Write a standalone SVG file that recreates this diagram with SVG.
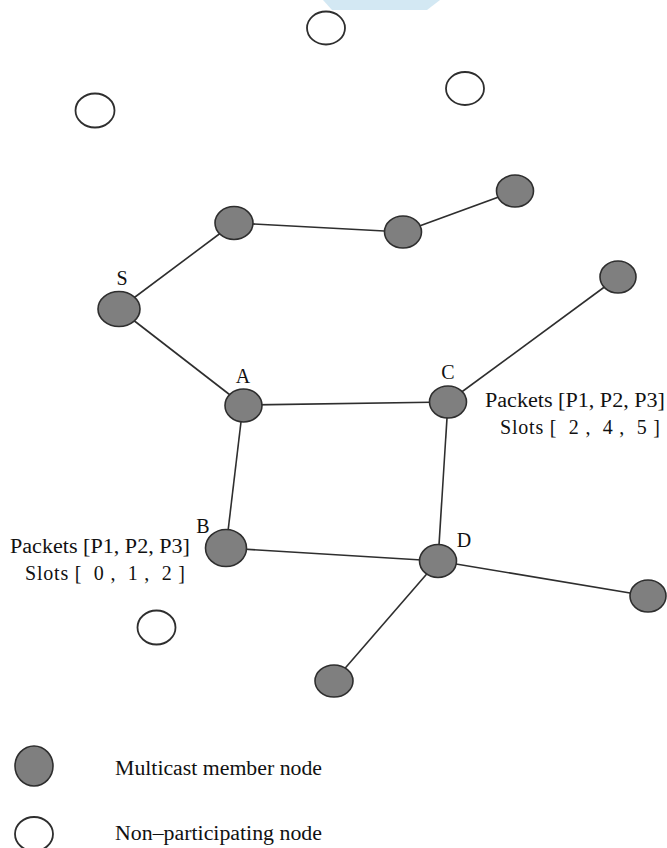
<svg xmlns="http://www.w3.org/2000/svg" width="667" height="848" viewBox="0 0 667 848">
  <style>
    .member { fill: #7f7f7f; stroke: #2e2e2e; stroke-width: 1.6; }
    .idle { fill: #ffffff; stroke: #2e2e2e; stroke-width: 1.8; }
    .edge { stroke: #2e2e2e; stroke-width: 1.6; fill: none; }
    .label { font-family: "Liberation Serif", "Times New Roman", serif; font-size: 20px; fill: #111111; }
    .note { font-family: "Liberation Serif", "Times New Roman", serif; font-size: 20px; fill: #111111; }
  </style>
  <rect width="667" height="848" fill="#ffffff"/>
  <!-- light blue band at the top edge -->
  <polygon points="323,0 440,0 427,10 332,10" fill="#d3e8f3"/>

  <g id="connectors">
    <line class="edge" x1="119" y1="309" x2="234" y2="223"/>
    <line class="edge" x1="234" y1="223" x2="403" y2="232"/>
    <line class="edge" x1="403" y1="232" x2="515" y2="191"/>
    <line class="edge" x1="119" y1="309" x2="243" y2="405"/>
    <line class="edge" x1="243" y1="405" x2="448" y2="402"/>
    <line class="edge" x1="448" y1="402" x2="618" y2="277"/>
    <line class="edge" x1="243" y1="405" x2="226" y2="548"/>
    <line class="edge" x1="448" y1="402" x2="438" y2="561"/>
    <line class="edge" x1="226" y1="548" x2="438" y2="561"/>
    <line class="edge" x1="438" y1="561" x2="648" y2="596"/>
    <line class="edge" x1="438" y1="561" x2="334" y2="681"/>
  </g>

  <!-- non-participating nodes -->
  <g id="n1"><ellipse class="idle" cx="326" cy="28" rx="19" ry="16.5"/></g>
  <g id="n2"><ellipse class="idle" cx="465" cy="88.5" rx="19" ry="16.5"/></g>
  <g id="n3"><ellipse class="idle" cx="95" cy="110.5" rx="19.5" ry="17"/></g>
  <g id="n4"><ellipse class="idle" cx="156.5" cy="627.5" rx="19" ry="17"/></g>

  <!-- multicast member nodes -->
  <g id="m1"><ellipse class="member" cx="234" cy="223" rx="19" ry="16.5"/></g>
  <g id="m2"><ellipse class="member" cx="403" cy="232" rx="18.5" ry="16"/></g>
  <g id="m3"><ellipse class="member" cx="515" cy="191" rx="18.5" ry="16"/></g>
  <g id="m4"><ellipse class="member" cx="618" cy="277" rx="18" ry="16"/></g>
  <g id="S">
    <ellipse class="member" cx="119" cy="309" rx="21" ry="17.5"/>
    <text class="label" x="122" y="285" text-anchor="middle">S</text>
  </g>
  <g id="A">
    <ellipse class="member" cx="243.5" cy="405.5" rx="18.5" ry="16.5"/>
    <text class="label" x="243" y="383" text-anchor="middle">A</text>
  </g>
  <g id="C">
    <ellipse class="member" cx="448" cy="402" rx="18.5" ry="16"/>
    <text class="label" x="448" y="379" text-anchor="middle">C</text>
    <text class="note" x="485" y="407" textLength="180" lengthAdjust="spacingAndGlyphs">Packets [P1, P2, P3]</text>
    <text class="note" x="500" y="434" textLength="160" lengthAdjust="spacing" xml:space="preserve">Slots [  2 ,  4 ,  5 ]</text>
  </g>
  <g id="B">
    <ellipse class="member" cx="226" cy="548" rx="20.5" ry="18.5"/>
    <text class="label" x="203" y="533" text-anchor="middle">B</text>
    <text class="note" x="10" y="553" textLength="180" lengthAdjust="spacingAndGlyphs">Packets [P1, P2, P3]</text>
    <text class="note" x="25" y="580" textLength="160" lengthAdjust="spacing" xml:space="preserve">Slots [  0 ,  1 ,  2 ]</text>
  </g>
  <g id="D">
    <ellipse class="member" cx="438" cy="561" rx="18.5" ry="16.5"/>
    <text class="label" x="464" y="547" text-anchor="middle">D</text>
  </g>
  <g id="m5"><ellipse class="member" cx="648" cy="596" rx="18" ry="16"/></g>
  <g id="m6"><ellipse class="member" cx="334" cy="681" rx="19" ry="16"/></g>

  <!-- legend -->
  <g id="legend-member">
    <ellipse class="member" cx="34" cy="766" rx="19" ry="20"/>
    <text class="note" x="115" y="775" textLength="207" lengthAdjust="spacingAndGlyphs">Multicast member node</text>
  </g>
  <g id="legend-idle">
    <ellipse class="idle" cx="34" cy="834" rx="19" ry="17"/>
    <text class="note" x="115" y="840" textLength="207" lengthAdjust="spacingAndGlyphs">Non–participating node</text>
  </g>
</svg>
